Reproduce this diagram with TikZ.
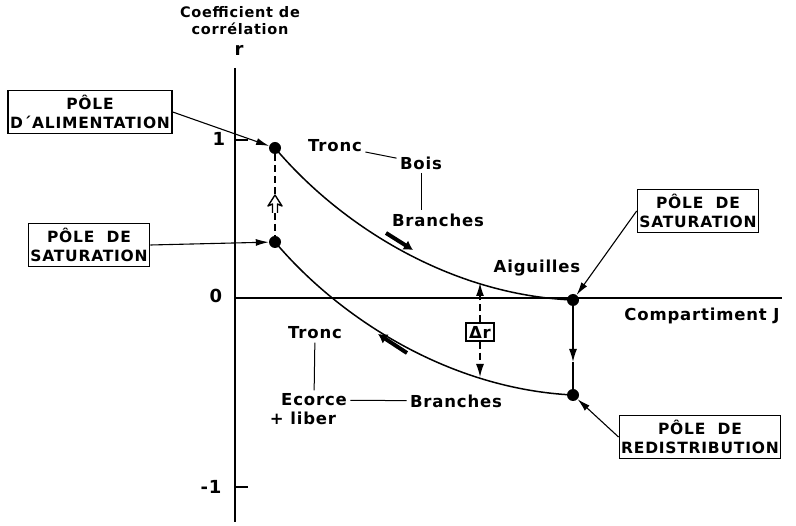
\documentclass[tikz,border=0pt]{standalone}
\usepackage{fontspec}
\setmainfont[LetterSpace=5]{DejaVu Sans}
\usetikzlibrary{arrows.meta}

\begin{document}
\begin{tikzpicture}[x=1pt,y=-1pt,
    font=\fontsize{14.5}{17}\selectfont\bfseries,
    pole/.style={draw,line width=1.4pt,align=center,inner xsep=2pt,inner ysep=4pt,minimum height=43pt,
        font=\fontsize{15.5}{19}\selectfont\bfseries},
    dot/.style={circle,fill,inner sep=0pt,minimum size=12pt},
    lbl/.style={font=\fontsize{16.5}{18}\selectfont\bfseries},
    tick/.style={font=\fontsize{18}{18}\selectfont\bfseries},
    pointer/.style={line width=1.1pt,-{Latex[length=13pt,width=7pt]}},
    flow/.style={line width=4pt,-{Latex[length=9pt,width=11pt]}},
    ddash/.style={line width=1.2pt,dash pattern=on 7pt off 4pt},
    link/.style={line width=1pt}]

    \useasboundingbox (0,0) rectangle (796,526);

    \draw [line width=2.6pt] (235,68) -- (235,522);
    \draw [line width=2.6pt] (235,298) -- (782,298);
    \draw [line width=1.3pt] (235,140) -- (248,140);
    \draw [line width=1.3pt] (235,487) -- (248,487);
    \node [tick] (one)  at (219,139) {1};
    \node [tick] (zero) at (216,296) {0};
    \node [tick] (mone) at (211,487) {-1};
    \node [tick,inner sep=1pt] (rlab) at (239,50) {r};
    \node [align=center] (ylab) at (240,21) {Coefficient de\\corrélation};
    \node [lbl] (xlab) at (702,316) {Compartiment J};

    \node [dot] (alim)  at (275,148) {};
    \node [dot] (satL)  at (275,242) {};
    \node [dot] (satR)  at (573,300) {};
    \node [dot] (redis) at (573,395) {};

    \draw [line width=1.5pt] (alim.center) .. controls (340,225) and (450,295) .. (satR.center);
    \draw [line width=1.5pt] (satL.center) .. controls (340,319) and (450,389) .. (redis.center);

    \coordinate (cdtip) at (573,362);
    \draw [line width=1.4pt,-{Latex[length=13pt,width=8pt]}] (satR) -- (cdtip);
    \draw [line width=1.4pt] (cdtip) -- (redis);

    \node [draw,line width=1.3pt,inner sep=3pt,lbl] (dr) at (480,332) {Δr};
    \coordinate (drtop) at (480,283);
    \coordinate (drbot) at (480,377);
    \draw [ddash,-{Latex[length=13pt,width=8pt]}] (dr) -- (drtop);
    \draw [ddash,-{Latex[length=13pt,width=8pt]}] (dr) -- (drbot);

    \coordinate (upA) at (275,195);
    \coordinate (upB) at (275,213);
    \draw [ddash] (alim) -- (upA);
    \draw [ddash] (upB) -- (satL);
    \draw [line width=1.4pt,line join=round,shift={(upA)}]
        (-2.5,18) -- (-2.5,9) -- (-7,11) -- (0,0) -- (7,11) -- (2.5,9) -- (2.5,18);

    \node [pole,minimum width=164pt] (boxalim)  at (90,112)  {PÔLE\\D´ALIMENTATION};
    \node [pole,minimum width=119pt] (boxsatL)  at (89,245)  {PÔLE~~DE\\SATURATION};
    \node [pole,minimum width=117pt] (boxsatR)  at (698,211) {PÔLE~~DE\\SATURATION};
    \node [pole,minimum width=155pt] (boxredis) at (700,437) {PÔLE~~DE\\REDISTRIBUTION};

    \draw [pointer] (boxalim.east)  -- (alim);
    \draw [pointer] (boxsatL.east)  -- (satL);
    \draw [pointer] (boxsatR.west)  -- (satR);
    \draw [pointer] (boxredis.west) -- (redis);

    \node [lbl] (tronc1)  at (335,146) {Tronc};
    \node [lbl] (bois)    at (421,163) {Bois};
    \node [lbl] (branch1) at (438,220) {Branches};
    \node [lbl] (aig)     at (537,268) {Aiguilles};
    \node [lbl] (tronc2)  at (315,333) {Tronc};
    \node [lbl] (ecorce)  at (314,400) {Ecorce};
    \node [lbl] (liber)   at (303,418) {+ liber};
    \node [lbl] (branch2) at (456,401) {Branches};

    \draw [link] (tronc1) -- (bois);
    \draw [link] (bois.south) -- (bois.south |- branch1.north);
    \draw [link] (tronc2) -- (ecorce);
    \draw [link] (ecorce) -- (branch2);

    \coordinate (f1s) at (386,233);
    \coordinate (f1e) at (413,250);
    \coordinate (f2s) at (407,353);
    \coordinate (f2e) at (378,334);
    \draw [flow] (f1s) -- (f1e);
    \draw [flow] (f2s) -- (f2e);

\end{tikzpicture}
\end{document}
